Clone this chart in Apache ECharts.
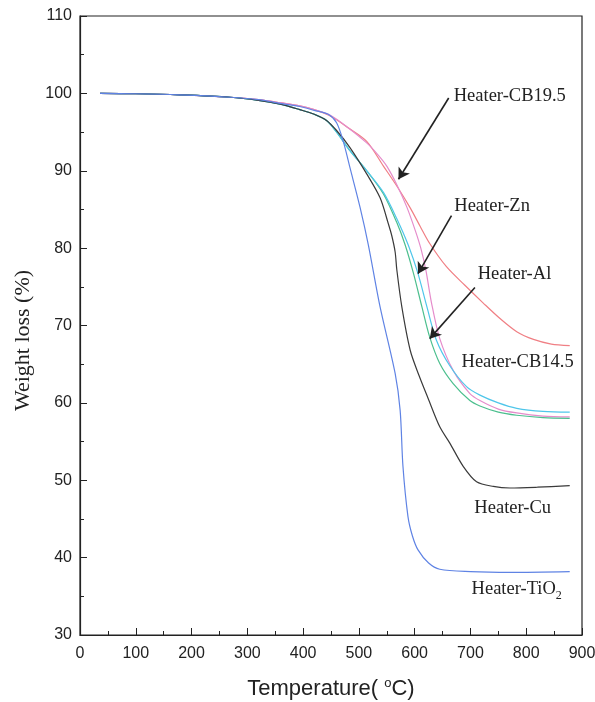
<!DOCTYPE html>
<html>
<head>
<meta charset="utf-8">
<script src="https://cdn.jsdelivr.net/npm/echarts@6/dist/echarts.min.js"></script>
<style>
  html, body { margin: 0; padding: 0; background: #fff; }
  #chart { width: 595px; height: 702px; }
</style>
</head>
<body>
<div id="chart"></div>
<script>
// axis ranges: [min, max, interval]
const xRange = [0, 900, 100];
const yRange = [30, 110, 10];

// TGA curves, [temperature °C, weight %]
const cb145 = [[36,100],[100,99.95],[179,99.8],[269,99.5],[320,99.2],[359,98.8],[394,98.4],[420,97.9],[448,97.1],[480,95.6],[514,93.8],[544,90.6],[570,87.8],[592,85.2],[610,82.8],[627,80.6],[657,77.6],[690,75.2],[723,72.9],[753,70.9],[783,69.2],[813,68.2],[845,67.6],[878,67.4]];
const cb195 = [[36,100],[100,99.95],[179,99.8],[269,99.5],[320,99.2],[359,98.8],[394,98.4],[420,97.9],[448,97.2],[480,95.6],[514,93.6],[535,92.0],[550,90.6],[568,88.2],[586,85.3],[601,82.3],[611,80.0],[620,77.2],[630,73.0],[645,68.3],[669,64.2],[699,61.2],[717,60.3],[750,59.2],[783,58.7],[830,58.3],[878,58.2]];
const zn = [[36,100],[100,99.95],[179,99.8],[269,99.5],[320,99.1],[359,98.6],[394,97.9],[420,97.3],[442,96.5],[460,95.0],[484,92.6],[514,90.0],[544,87.2],[568,83.8],[589,80.3],[606,76.7],[622,72.4],[639,68.1],[663,64.8],[693,62.1],[717,61.0],[750,60.0],[783,59.3],[830,58.9],[878,58.8]];
const al = [[36,100],[100,99.95],[179,99.8],[269,99.5],[320,99.1],[359,98.6],[394,97.9],[420,97.3],[442,96.5],[460,95.0],[484,92.6],[514,90.0],[544,87.0],[568,83.3],[583,80.4],[598,76.7],[613,72.4],[627,68.5],[645,65.1],[669,62.5],[699,60.3],[717,59.6],[750,58.8],[783,58.4],[830,58.1],[878,58.0]];
const cu = [[36,100],[100,99.95],[179,99.8],[269,99.5],[320,99.1],[359,98.6],[394,97.9],[420,97.3],[442,96.5],[460,95.2],[484,93.0],[514,89.6],[538,86.5],[553,83.1],[559,81.6],[565,79.5],[568,77.2],[577,72.4],[592,66.8],[608,63.5],[624,60.6],[645,56.9],[663,54.8],[687,51.8],[711,49.8],[741,49.2],[771,49.0],[820,49.1],[878,49.3]];
const tio2 = [[36,100],[100,99.95],[179,99.8],[269,99.5],[320,99.2],[359,98.7],[394,98.3],[420,97.8],[445,97.3],[460,96.2],[472,93.8],[484,90.4],[502,85.3],[517,80.4],[538,72.4],[565,63.8],[574,59.0],[579,51.8],[588,45.3],[596,42.8],[606,41.0],[625,39.3],[645,38.5],[700,38.2],[771,38.1],[878,38.2]];

// text annotations: [text, temperature, weight] (left edge, middle)
const notes = [
  ['{a|Heater-CB19.5}', 670, 99.6],
  ['{a|Heater-Zn}', 671, 85.4],
  ['{a|Heater-Al}', 713, 76.7],
  ['{a|Heater-CB14.5}', 684, 65.2],
  ['{a|Heater-Cu}', 707, 46.4],
  ['{a|Heater-TiO}{s|2}', 702, 35.9]
];
// arrows: [from, to, curveness]
const arrows = [
  [[661, 99.4], [571, 88.9], -0.2],
  [[666, 84.2], [606, 76.7], 0],
  [[708, 74.9], [627, 68.3], 0]
];

const myChart = echarts.init(document.getElementById('chart'));

function line(name, data, color) {
  return {
    name: name,
    type: 'line',
    data: data,
    showSymbol: false,
    smooth: 0.3,
    lineStyle: { color: color, width: 1.2 },
    itemStyle: { color: color },
    z: 3
  };
}

const series = [
  line('Heater-CB14.5', cb145, '#f07f84'),
  line('Heater-CB19.5', cb195, '#e58ccb'),
  line('Heater-Al', al, '#4cbf8e'),
  line('Heater-Zn', zn, '#4fc6ea'),
  line('Heater-Cu', cu, '#3a3a3a'),
  line('Heater-TiO2', tio2, '#5f83e4')
];

series[0].markLine = {
  silent: true,
  symbol: ['none', 'arrow'],
  symbolSize: [10, 11],
  label: { show: false },
  lineStyle: { color: '#222', width: 1.6, type: 'solid' },
  data: arrows.map(a => [
    { coord: a[0], lineStyle: { curveness: a[2] } },
    { coord: a[1] }
  ])
};

myChart.setOption({
  animation: false,
  backgroundColor: '#fff',
  grid: {
    left: 80, right: 13, top: 16, bottom: 67,
    outerBoundsMode: 'none',
    show: true, borderColor: '#222', borderWidth: 1.2
  },
  xAxis: {
    type: 'value',
    min: xRange[0], max: xRange[1], interval: xRange[2],
    name: '{a|Temperature( }{s|o}{a|C)}',
    nameLocation: 'middle',
    nameGap: 42,
    nameTextStyle: {
      rich: {
        a: { fontFamily: 'Liberation Sans', fontSize: 22, color: '#222' },
        s: { fontFamily: 'Liberation Sans', fontSize: 13, color: '#222', verticalAlign: 'top', padding: [0, 0, 10, 0] }
      }
    },
    axisLine: { lineStyle: { color: '#222', width: 1.2 } },
    axisTick: { inside: true, length: 7, lineStyle: { color: '#222' } },
    minorTick: { show: true, splitNumber: 2, length: 4, lineStyle: { color: '#222' } },
    splitLine: { show: false },
    axisLabel: { fontFamily: 'Liberation Sans', fontSize: 16, color: '#222', margin: 11 }
  },
  yAxis: {
    type: 'value',
    min: yRange[0], max: yRange[1], interval: yRange[2],
    name: 'Weight loss (%)',
    nameLocation: 'middle',
    nameGap: 44,
    nameTextStyle: { fontFamily: 'Liberation Serif', fontSize: 22, color: '#222', padding: [0, 30, 0, 0] },
    axisLine: { show: true, lineStyle: { color: '#222', width: 1.2 } },
    axisTick: { show: true, inside: true, length: 7, lineStyle: { color: '#222' } },
    minorTick: { show: true, splitNumber: 2, length: 4, lineStyle: { color: '#222' } },
    splitLine: { show: false },
    axisLabel: { fontFamily: 'Liberation Sans', fontSize: 16, color: '#222', margin: 8 }
  },
  series: series
});

// place the curve names with the chart's own scale
myChart.setOption({
  graphic: notes.map(n => {
    const p = myChart.convertToPixel({ gridIndex: 0 }, [n[1], n[2]]);
    return {
      type: 'text',
      x: p[0], y: p[1],
      z: 10,
      style: {
        text: n[0],
        verticalAlign: 'middle',
        rich: {
          a: { fontFamily: 'Liberation Serif', fontSize: 18.5, fill: '#222' },
          s: { fontFamily: 'Liberation Serif', fontSize: 12, fill: '#222', padding: [13, 0, 0, 0] }
        }
      }
    };
  })
});
</script>
</body>
</html>
